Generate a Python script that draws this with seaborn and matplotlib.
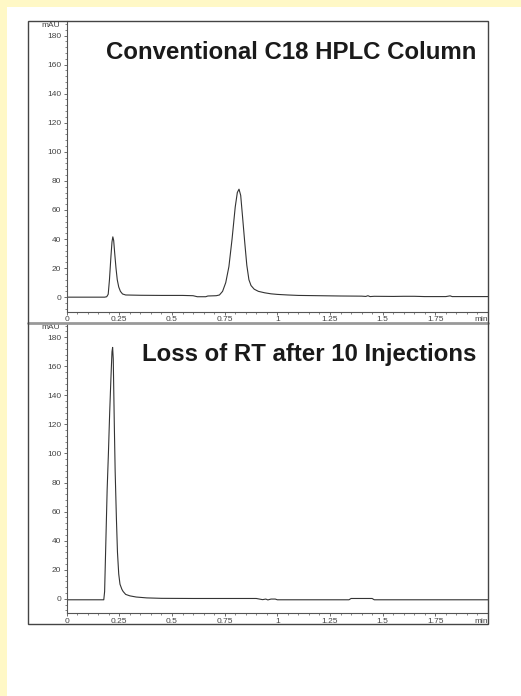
import numpy as np
import pandas as pd
import seaborn as sns
import matplotlib.pyplot as plt
from matplotlib.patches import Rectangle
from matplotlib.lines import Line2D

# chromatogram: time [min], absorbance [mAU]
top_time = [0.00, 0.18, 0.19, 0.197, 0.203, 0.21, 0.215, 0.219, 0.223, 0.228,
            0.234, 0.240, 0.247, 0.255, 0.265, 0.28, 0.35, 0.45, 0.55, 0.60,
            0.62, 0.66, 0.67, 0.71, 0.725, 0.74, 0.755, 0.77, 0.785, 0.80,
            0.81, 0.818, 0.826, 0.835, 0.845, 0.855, 0.865, 0.875, 0.89, 0.91,
            0.94, 0.97, 1.00, 1.05, 1.10, 1.20, 1.30, 1.40, 1.42, 1.43,
            1.44, 1.46, 1.55, 1.60, 1.65, 1.70, 1.80, 1.82, 1.83, 2.00]
top_mau = [0.0, 0.0, 0.3, 2.0, 12.0, 28.0, 38.0, 41.5, 39.0, 30.0,
           20.0, 12.0, 7.0, 4.0, 2.2, 1.5, 1.3, 1.2, 1.2, 1.0,
           0.3, 0.3, 0.8, 1.0, 1.5, 4.0, 10.0, 21.0, 40.0, 62.0,
           72.0, 74.3, 70.0, 55.0, 38.0, 22.0, 12.0, 8.0, 5.5, 4.0,
           3.0, 2.3, 1.9, 1.5, 1.2, 1.0, 0.8, 0.7, 0.5, 1.0,
           0.4, 0.6, 0.5, 0.6, 0.6, 0.4, 0.4, 0.9, 0.4, 0.4]

bottom_time = [0.00, 0.17, 0.176, 0.180, 0.186, 0.192, 0.198, 0.204, 0.210, 0.215,
               0.218, 0.221, 0.226, 0.230, 0.236, 0.241, 0.247, 0.253, 0.262, 0.268,
               0.28, 0.30, 0.33, 0.38, 0.45, 0.60, 0.90, 0.93, 0.945, 0.955,
               0.97, 0.99, 1.00, 1.34, 1.35, 1.45, 1.46, 2.00]
bottom_mau = [-0.7, -0.7, -0.7, 5.0, 40.0, 75.0, 100.0, 128.0, 152.0, 170.0,
              173.0, 165.0, 120.0, 88.0, 55.0, 32.0, 17.0, 10.0, 6.5, 5.0,
              3.0, 2.0, 1.2, 0.6, 0.3, 0.2, 0.2, -0.6, -0.2, -0.8,
              -0.2, -0.2, -0.7, -0.7, 0.2, 0.2, -0.7, -0.7]

panel_titles = ["Conventional C18 HPLC Column", "Loss of RT after 10 Injections"]
x_ticks = [0, 0.25, 0.5, 0.75, 1.0, 1.25, 1.5, 1.75, 2.0]
x_tick_labels = ["0", "0.25", "0.5", "0.75", "1", "1.25", "1.5", "1.75", "min"]
y_ticks = [0, 20, 40, 60, 80, 100, 120, 140, 160, 180]

sns.set_style("ticks")
plt.rcParams["font.family"] = ["Liberation Sans", "DejaVu Sans"]

W, H = 521, 696
fig = plt.figure(figsize=(W / 100, H / 100), dpi=100, facecolor="#FFF8C6")

# white sheet and the frame around both traces
fig.patches.append(Rectangle((7 / W, 0), 1, 1 - 7 / H, transform=fig.transFigure,
                             facecolor="white", edgecolor="none", zorder=-5))
box_l, box_r = 28 / W, 488 / W
box_t, box_b = 1 - 21 / H, 1 - 624 / H
mid = 1 - 322.7 / H
fig.patches.append(Rectangle((box_l, box_b), box_r - box_l, box_t - box_b,
                             transform=fig.transFigure, facecolor="none",
                             edgecolor="#444444", lw=1.0, zorder=5))
fig.lines.append(Line2D([box_l, box_r], [mid, mid], transform=fig.transFigure,
                        color="#999999", lw=2.0, zorder=5))

ax_l = 66.7 / W
ax_w = box_r - ax_l
axes_rects = [
    [ax_l, 1 - 311.7 / H, ax_w, box_t - (1 - 311.7 / H)],
    [ax_l, 1 - 613.3 / H, ax_w, mid - (1 - 613.3 / H)],
]
traces = [
    pd.DataFrame({"time": top_time, "mAU": top_mau}),
    pd.DataFrame({"time": bottom_time, "mAU": bottom_mau}),
]

for rect, df, title in zip(axes_rects, traces, panel_titles):
    ax = fig.add_axes(rect)
    ax.set_facecolor("none")
    sns.lineplot(data=df, x="time", y="mAU", ax=ax, color="#333333", lw=0.8)
    ax.set_xlim(0, 2.0)
    ax.set_ylim(-10, 190)
    ax.set_xlabel("")
    ax.set_ylabel("")
    for side in ["top", "right"]:
        ax.spines[side].set_visible(False)
    for side in ["left", "bottom"]:
        ax.spines[side].set_color("#555555")
        ax.spines[side].set_linewidth(0.8)

    ax.set_xticks(x_ticks, x_tick_labels)
    ax.set_xticks(np.arange(0, 2.0, 0.05), minor=True)
    ax.set_yticks(y_ticks, [str(v) for v in y_ticks])
    ax.set_yticks(np.arange(-8, 190, 4), minor=True)
    ax.tick_params(which="major", length=2.5, width=0.6, color="#555555",
                   labelsize=6.0, labelcolor="#444444", pad=1.5)
    ax.tick_params(axis="x", which="major", pad=0.6)
    ax.tick_params(which="minor", length=1.5, width=0.5, color="#555555")
    ax.get_xticklabels()[-1].set_horizontalalignment("right")

    ax.text(-0.016, 0.985, "mAU", transform=ax.transAxes, ha="right", va="center",
            fontsize=6.0, color="#444444")
    ax.text(0.9715, 0.892, title, transform=ax.transAxes, ha="right", va="center",
            fontsize=17.3, fontweight="bold", color="#1a1a1a")

fig.savefig("out.png", dpi=100, facecolor=fig.get_facecolor())
